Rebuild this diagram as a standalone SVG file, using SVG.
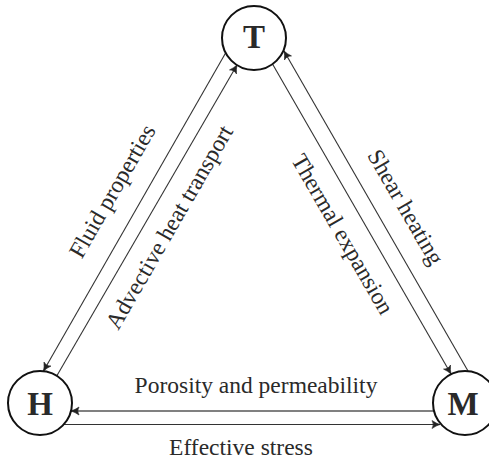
<svg xmlns="http://www.w3.org/2000/svg" width="489" height="461" viewBox="0 0 489 461">
  <defs>
    <marker id="arrow" viewBox="-10 -5 12 10" refX="0" refY="0" markerWidth="12" markerHeight="10" markerUnits="userSpaceOnUse" orient="auto">
      <path d="M0,0 Q-4,-1.2 -8,-4 Q-5.5,0 -8,4 Q-4,1.2 0,0 Z" fill="#222" stroke="#222" stroke-width="0.6"/>
    </marker>
    <style>
      .node circle { fill: #fff; stroke: #111; stroke-width: 2; }
      .node text { font-family: "Liberation Serif", "Times New Roman", serif; font-weight: bold; font-size: 33px; fill: #2a2a2a; text-anchor: middle; }
      .link { fill: none; stroke: #333; stroke-width: 1.1; }
      .link.grey { stroke: #808080; stroke-width: 2; }
      .label { font-family: "Liberation Serif", "Times New Roman", serif; font-size: 23.5px; fill: #2a2a2a; text-anchor: middle; }
    </style>
  </defs>

  <rect width="489" height="461" fill="#fff"/>

  <!-- connectors between the three fields -->
  <g id="connectors">
    <!-- T -> H : fluid properties -->
    <line class="link" x1="225.6" y1="53" x2="43.5" y2="371" marker-end="url(#arrow)"/>
    <!-- H -> T : advective heat transport -->
    <line class="link" x1="57" y1="375.5" x2="237" y2="65" marker-end="url(#arrow)"/>
    <!-- T -> M : thermal expansion -->
    <line class="link" x1="272.5" y1="64" x2="451" y2="374" marker-end="url(#arrow)"/>
    <!-- M -> T : shear heating -->
    <line class="link" x1="468" y1="371" x2="284" y2="51" marker-end="url(#arrow)"/>
    <!-- M -> H : porosity and permeability -->
    <line class="link grey" x1="434" y1="411" x2="71" y2="411" marker-end="url(#arrow)"/>
    <!-- H -> M : effective stress -->
    <line class="link" x1="64" y1="424.5" x2="440" y2="424.5" marker-end="url(#arrow)"/>
  </g>

  <!-- connector labels -->
  <g id="labels">
    <text class="label" transform="translate(119,195) rotate(-60)">Fluid properties</text>
    <text class="label" transform="translate(176,231) rotate(-60)">Advective heat transport</text>
    <text class="label" transform="translate(399,211) rotate(60)">Shear heating</text>
    <text class="label" transform="translate(336,238) rotate(60)">Thermal expansion</text>
    <text class="label" x="256" y="393">Porosity and permeability</text>
    <text class="label" x="241" y="455">Effective stress</text>
  </g>

  <g id="node-T" class="node">
    <circle cx="254" cy="38" r="32"/>
    <text x="254" y="48">T</text>
  </g>
  <g id="node-H" class="node">
    <circle cx="40" cy="403" r="32"/>
    <text x="40" y="415">H</text>
  </g>
  <g id="node-M" class="node">
    <circle cx="465" cy="403" r="32"/>
    <text x="463" y="415">M</text>
  </g>
</svg>
